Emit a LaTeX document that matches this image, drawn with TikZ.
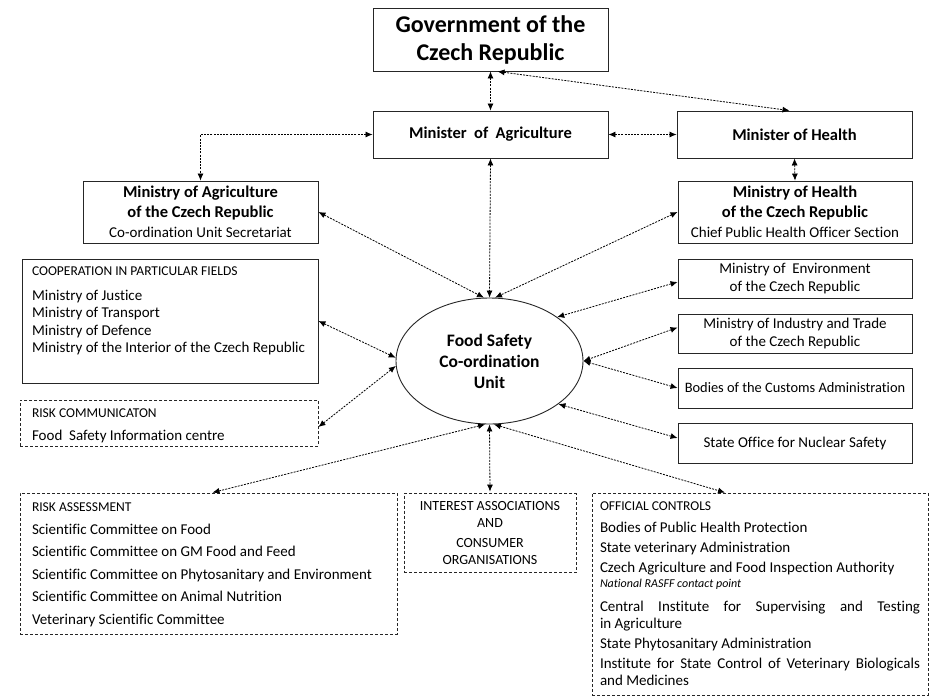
\documentclass[tikz,border=0pt]{standalone}
\usepackage{fontspec}
\setmainfont{Carlito}[Ligatures={NoCommon}]
\usetikzlibrary{arrows.meta,shapes.geometric}
\newcommand{\fs}[2]{\fontsize{#1}{#2}\selectfont}
\tikzset{box/.style={draw=black!85,line width=.9pt,align=center,inner sep=1pt,text=black},dbox/.style={box,dash pattern=on 3pt off 2pt},link/.style={{Latex[length=7pt,width=6pt]}-{Latex[length=7pt,width=6pt]},dash pattern=on 2pt off 1.2pt,line width=.8pt},ttl/.style={font=\bfseries\fs{16.5}{20}},sub/.style={font=\fs{15}{18}}}

\begin{document}
\begin{tikzpicture}[x=1pt,y=-1pt]
\fill[white] (0,0) rectangle (930,697);
\useasboundingbox (0,0) rectangle (930,697);
% top of the hierarchy
\node[box,minimum width=235pt,minimum height=63pt,font=\bfseries\fs{24}{28}] (gov) at (490.5,39.5) {Government of the\\Czech Republic};
\node[box,ttl,minimum width=235pt,minimum height=47pt] (minag) at (490.5,134.5) {Minister\ \ of\ \ Agriculture};
\node[box,ttl,minimum width=235pt,minimum height=47pt] (minh) at (794.5,134.5) {Minister of Health};
\node[box,ttl,minimum width=235pt,minimum height=62pt] (moa) at (200.5,212) {Ministry of Agriculture\\of the Czech Republic\\{\mdseries\fs{15}{20}Co-ordination Unit Secretariat}};
\node[box,ttl,minimum width=234pt,minimum height=62pt] (moh) at (795,212) {Ministry of Health\\of the Czech Republic\\{\mdseries\fs{15}{20}Chief Public Health Officer Section}};
% right column
\node[box,sub,minimum width=234pt,minimum height=39pt] (env) at (795,278.5) {Ministry of\ \ Environment\\of the Czech Republic};
\node[box,sub,minimum width=234pt,minimum height=39pt] (ind) at (795,333.5) {Ministry of Industry and Trade\\of the Czech Republic};
\node[box,minimum width=234pt,minimum height=40pt,font=\fs{14.4}{18}] (cus) at (795,388) {Bodies of the Customs Administration};
\node[box,sub,minimum width=234pt,minimum height=40pt] (nuc) at (795,443) {State Office for Nuclear Safety};
% centre
\node[ellipse,draw=black!85,line width=.9pt,minimum width=187pt,minimum height=126pt,inner sep=0pt,align=center,font=\bfseries\fs{17.5}{21}] (fsu) at (489.5,361) {Food Safety\\Co-ordination\\Unit};
% left column
\node[box,minimum width=296pt,minimum height=124pt,inner sep=0pt] (coop) at (170,321) {\parbox[t][109pt][t]{276pt}{\fs{13.5}{16}COOPERATION IN PARTICULAR FIELDS\par\vspace{7.5pt}\fs{15}{17.5}Ministry of Justice\par Ministry of Transport\par Ministry of Defence\par Ministry of the Interior of the Czech Republic}};
\node[dbox,minimum width=298pt,minimum height=46pt,inner sep=0pt] (rc) at (169,423) {\parbox[t][29pt][t]{274pt}{\fs{13.5}{16}RISK COMMUNICATON\par\vspace{5.5pt}\fs{15}{17.5}Food\ \ Safety Information centre}};
% bottom row
\node[dbox,minimum width=377pt,minimum height=141pt,inner sep=0pt] (ra) at (208.5,563.5) {\parbox[t][122pt][t]{353pt}{\fs{13.5}{16}RISK ASSESSMENT\par\vspace{.5pt}\fs{15}{22.5}Scientific Committee on Food\par Scientific Committee on GM Food and Feed\par Scientific Committee on Phytosanitary and Environment\par Scientific Committee on Animal Nutrition\par Veterinary Scientific\ Committee}};
\node[dbox,minimum width=172pt,minimum height=79pt,font=\fs{14}{17}] (ia) at (490,533) {INTEREST ASSOCIATIONS\\AND\\[3.5pt]CONSUMER\\ORGANISATIONS};
\node[dbox,minimum width=336pt,minimum height=202pt,inner sep=0pt] (oc) at (760,594) {\parbox[t][185pt][t]{320pt}{\fs{13.5}{16}OFFICIAL CONTROLS\par\parskip=3pt\vspace{2pt}\fs{15}{17}Bodies of Public\ Health Protection\par State veterinary Administration\par Czech Agriculture and Food Inspection Authority\par\vspace{-5pt}{\itshape\fs{12}{17}National RASFF contact point\par}\vspace{4pt}Central Institute for Supervising and Testing\linebreak in Agriculture\par State Phytosanitary Administration\par Institute for State Control of Veterinary Biologicals\linebreak and Medicines}};
% connectors
\draw[link] (gov.south) -- (minag.north);
\draw[link] ([xshift=7pt]gov.south) -- ([xshift=-5pt]minh.north);
\draw[link] (minag.east) -- (minh.west);
\draw[link] (minag.west) -| (moa.north);
\draw[link] (minh.south) -- (moh.north);
\draw[link] (minag.south) -- (fsu.north);
\draw[link] (moa.east) -- (fsu.95);
\draw[link] (moh.west) -- (fsu.85);
\draw[link] (coop.east) -- (fsu.178);
\draw[link] ([yshift=-4pt]rc.east) -- (fsu.183);
\draw[link] ([yshift=-3.5pt]env.west) -- (fsu.33);
\draw[link] ([yshift=6pt]ind.west) -- (fsu.east);
\draw[link] (cus.west) -- (fsu.east);
\draw[link] ([yshift=5pt]nuc.west) -- (fsu.-32);
\draw[link] (fsu.266) -- ([xshift=4pt]ra.north);
\draw[link] (fsu.south) -- ([yshift=1.5pt]ia.north);
\draw[link] (fsu.274) -- ([xshift=-35pt]oc.north);
\end{tikzpicture}
\end{document}
